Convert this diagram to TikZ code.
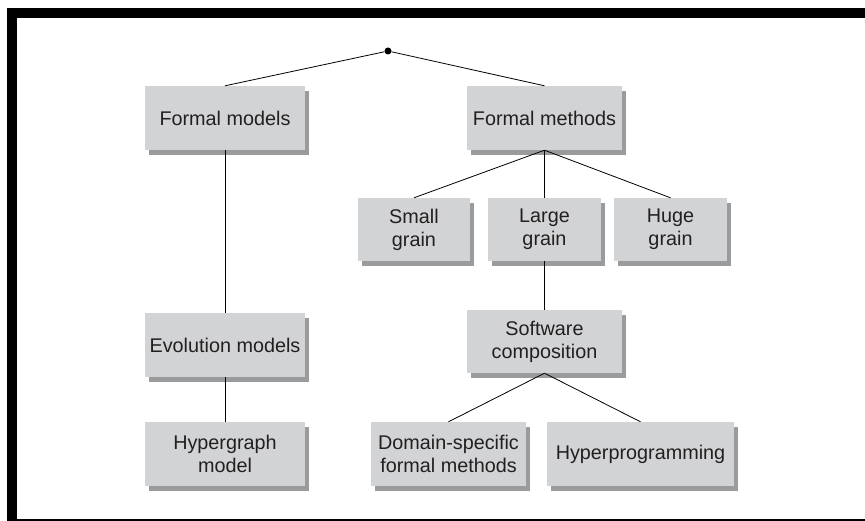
\documentclass[tikz,border=0pt]{standalone}
\usepackage{fontspec}
\setmainfont{Liberation Sans}
\usetikzlibrary{shadows}
\definecolor{boxgray}{HTML}{D2D3D5}
\definecolor{shadegray}{HTML}{9A9B9D}
\definecolor{inkgray}{HTML}{231F20}
\begin{document}
\begin{tikzpicture}
		[x=1pt,y=-1pt,
		gbox/.style={rectangle,fill=boxgray,text=inkgray,align=center,
inner sep=0pt,minimum height=64pt,font=\fontsize{19.8}{23}\selectfont,
drop shadow={shadow xshift=4pt,shadow yshift=-5pt,fill=shadegray,opacity=1}},
		link/.style={-,black,line width=0.8pt}]
		\useasboundingbox (0,0) rectangle (865,521);
		% frame
		\fill[black] (7,8) rectangle (865,18);
		\fill[black] (7,8) rectangle (17,521);
		\fill[black] (17,519) rectangle (865,521);
		% top row
		\node at (388,51) (root) [circle,fill=black,inner sep=0pt,minimum size=7pt] {};
		\node at (225,118) (fmod) [gbox,minimum width=160pt] {Formal models};
		\node at (544.5,118) (fmeth) [gbox,minimum width=155pt] {Formal methods};
		% grains
		\node at (414,229.5) (small) [gbox,minimum width=112pt,minimum height=63pt] {Small\\grain};
		\node at (544.5,229.5) (large) [gbox,minimum width=113pt,minimum height=63pt] {Large\\grain};
		\node at (670.5,229.5) (huge) [gbox,minimum width=113pt,minimum height=63pt] {Huge\\grain};
		% middle
		\node at (225,345) (evol) [gbox,minimum width=160pt] {Evolution models};
		\node at (544.5,341.5) (swcomp) [gbox,minimum width=155pt,minimum height=63pt] {Software\\composition};
		% bottom row
		\node at (225,454) (hyper) [gbox,minimum width=160pt] {Hypergraph\\model};
		\node at (448.5,454) (domain) [gbox,minimum width=155pt] {Domain-specific\\formal methods};
		\node at (640.5,454) (hprog) [gbox,minimum width=187pt] {Hyperprogramming};
		% links
		\draw [link] (root) -- (fmod.north);
		\draw [link] (root) -- (fmeth.north);
		\draw [link] (fmod.south) -- (evol.north);
		\draw [link] (evol.south) -- (hyper.north);
		\draw [link] (fmeth.south) -- (small.north);
		\draw [link] (fmeth.south) -- (large.north);
		\draw [link] (fmeth.south) -- (huge.north);
		\draw [link] (large.south) -- (swcomp.north);
		\draw [link] (swcomp.south) -- (domain.north);
		\draw [link] (swcomp.south) -- (hprog.north);
\end{tikzpicture}
\end{document}
